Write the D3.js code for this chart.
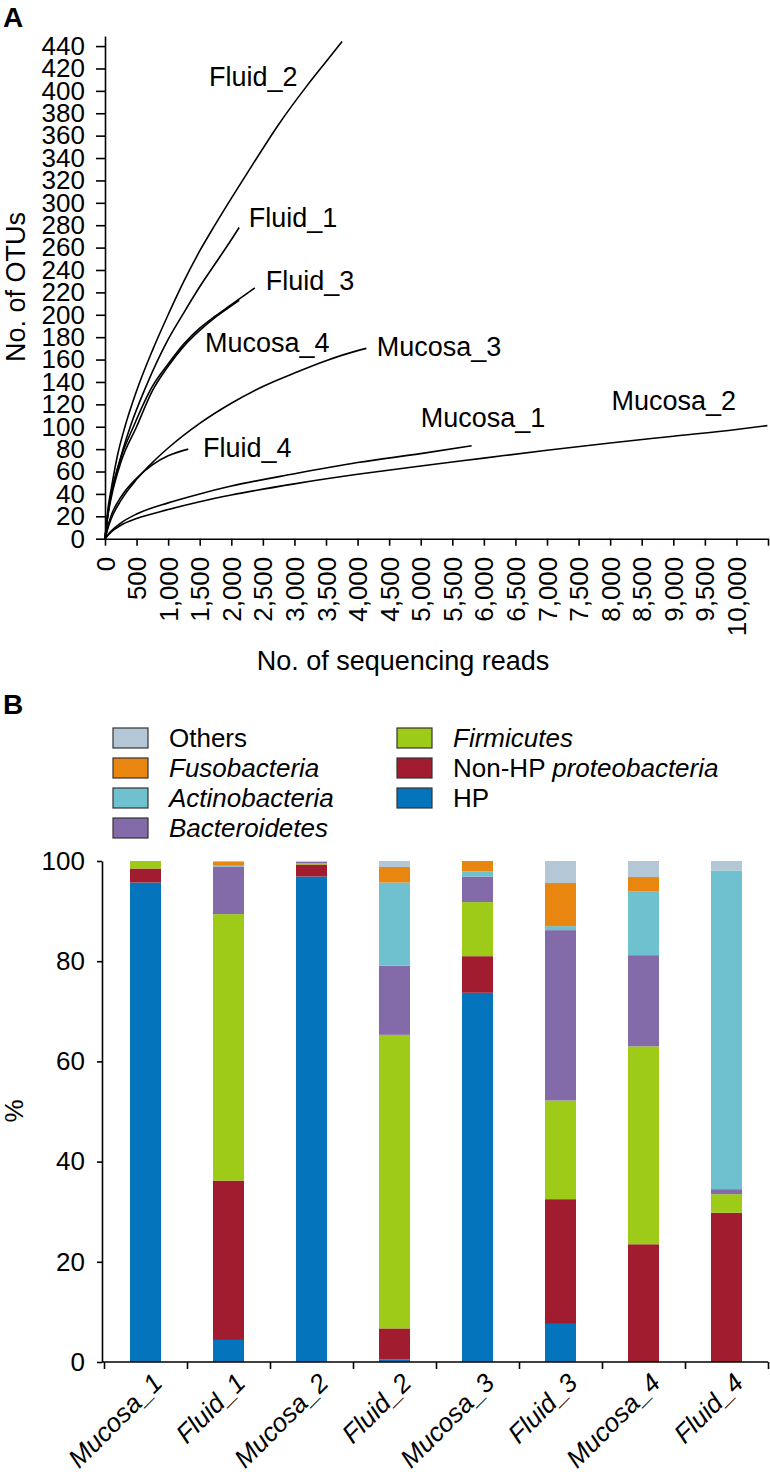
<!DOCTYPE html>
<html>
<head>
<meta charset="utf-8">
<script src="https://cdn.jsdelivr.net/npm/d3@7/dist/d3.min.js"></script>
<style>
body{margin:0;background:#fff}
svg{display:block;font-family:"Liberation Sans",Arial,sans-serif}
.axis path,.axis line{stroke:#000;stroke-width:1.6}
.axis text{font-size:26px;fill:#000;font-family:"Liberation Sans",Arial,sans-serif}
</style>
</head>
<body>
<div id="chart"></div>
<script>
// ---- panel A : rarefaction curves, points are [reads, OTUs]
const fluid_2=[[0,0],[50,28],[100,45],[200,75],[316,100],[500,132],[750,168],[1000,200],[1250,230],[1500,257],[1750,281],[2000,304],[2347,335],[2750,370],[3191,404],[3500,426],[3755,444]]
const fluid_1=[[0,0],[50,24],[100,40],[250,73],[400,100],[650,136],[1000,178],[1250,202],[1500,225],[1750,246],[2000,267],[2125,278]]
const fluid_3=[[0,0],[50,24],[100,40],[250,72],[450,100],[750,136],[1000,156],[1250,174],[1500,188],[1750,199],[2000,209],[2373,224]]
const mucosa_4=[[0,0],[50,22],[100,37],[250,68],[500,100],[750,132],[1000,154],[1250,172],[1500,186],[1750,198],[2000,208],[2125,213]]
const mucosa_3=[[0,0],[50,10],[100,18],[250,34],[500,53],[750,68],[1000,81],[1500,103],[2000,121],[2500,136],[3000,148],[3500,159],[4000,168],[4140,170]]
const fluid_4=[[0,0],[50,12],[100,21],[250,37],[500,54],[750,66],[1000,74],[1318,80]]
const mucosa_1=[[0,0],[100,7],[250,14],[500,22],[1000,32],[1500,40],[2000,47],[3000,58],[4000,68],[5000,76],[5807,83]]
const mucosa_2=[[0,0],[100,6],[250,12],[500,18],[1000,26],[1500,33],[2000,39],[3000,49],[4000,57.5],[5000,65],[6000,72],[7000,79],[8000,85.5],[9000,91.5],[10000,97.5],[10490,101]]

const curveNames=["Fluid_2","Fluid_1","Fluid_3","Mucosa_4","Mucosa_3","Fluid_4","Mucosa_1","Mucosa_2"]
const curveData=[fluid_2,fluid_1,fluid_3,mucosa_4,mucosa_3,fluid_4,mucosa_1,mucosa_2]
// where each name is written, in reads / OTUs
const labelAt=[[1646,413],[2278,287],[2547,231],[1582,175],[4304,172],[1551,81],[5000,108],[8022,123]]

const readTicks=[0,500,1000,1500,2000,2500,3000,3500,4000,4500,5000,5500,6000,6500,7000,7500,8000,8500,9000,9500,10000,10500]
const otuTicks=[0,20,40,60,80,100,120,140,160,180,200,220,240,260,280,300,320,340,360,380,400,420,440]

// ---- panel B : phylum composition (%)
const samples=["Mucosa_1","Fluid_1","Mucosa_2","Fluid_2","Mucosa_3","Fluid_3","Mucosa_4","Fluid_4"]
const phyla=["HP","Non-HP proteobacteria","Firmicutes","Bacteroidetes","Actinobacteria","Fusobacteria","Others"]
const hp=[95.7,4.4,96.9,0.5,73.7,7.6,0,0]
const nonHp=[2.8,31.8,2.4,6.2,7.3,24.9,23.5,29.8]
const firmicutes=[1.5,53.2,0.3,58.6,10.8,19.7,39.5,3.7]
const bacteroidetes=[0,9.5,0.2,13.8,5.1,34.0,18.2,1.0]
const actinobacteria=[0,0.3,0.1,16.6,1.0,0.8,12.7,63.6]
const fusobacteria=[0,0.6,0,3.1,2.1,8.6,2.9,0]
const others=[0,0.2,0.1,1.2,0,4.4,3.2,1.9]
const percentTicks=[0,20,40,60,80,100]

const phylumColors=["#0474bc","#a11c2e","#9dcb17","#836ba9","#70c1cf","#e9860f","#b3c7d6"]

let width=770, height=1484
let svg=d3.select("#chart").append("svg").attr("width",width).attr("height",height)

// panel letters
svg.append("text").attr("x",3).attr("y",27).text("A").attr("font-size",28).attr("font-weight","bold")
svg.append("text").attr("x",3).attr("y",714).text("B").attr("font-size",28).attr("font-weight","bold")

//////////////// panel A
let xA=d3.scaleLinear().domain([0,10500]).range([105,768])
let yA=d3.scaleLinear().domain([0,449]).range([538.7,36])

let axisXA=d3.axisBottom(xA).tickValues(readTicks).tickSize(7).tickSizeOuter(0)
    .tickFormat(d=>d==10500 ? "" : d3.format(",")(d))
let gx=svg.append("g").attr("class","axis").attr("transform","translate(0,"+yA(0)+")").call(axisXA)
gx.selectAll("text").attr("transform","rotate(-90)").attr("text-anchor","end").attr("x",-18).attr("y",0).attr("dy","0.35em")

let axisYA=d3.axisLeft(yA).tickValues(otuTicks).tickSize(9).tickPadding(11).tickSizeOuter(0)
svg.append("g").attr("class","axis").attr("transform","translate("+xA(0)+",0)").call(axisYA)

svg.append("text").attr("x",403).attr("y",670).attr("text-anchor","middle").attr("font-size",27).text("No. of sequencing reads")
svg.append("text").attr("transform","translate(25,287) rotate(-90)").attr("text-anchor","middle").attr("font-size",27).text("No. of OTUs")

let line=d3.line().x(d=>xA(d[0])).y(d=>yA(d[1])).curve(d3.curveMonotoneX)
svg.append("g").selectAll("path").data(curveData).enter().append("path")
    .attr("d",line).attr("fill","none").attr("stroke","#000").attr("stroke-width",1.6)

svg.append("g").selectAll("text").data(curveNames).enter().append("text")
    .attr("x",(d,i)=>xA(labelAt[i][0])).attr("y",(d,i)=>yA(labelAt[i][1]))
    .attr("dy","0.35em").attr("font-size",27).text(d=>d)

//////////////// panel B
let xB=d3.scaleBand().domain(samples).range([104,768]).padding(0)
let yB=d3.scaleLinear().domain([0,100]).range([1362,861])
let barW=31

// build the table d3.stack wants
let series=[hp,nonHp,firmicutes,bacteroidetes,actinobacteria,fusobacteria,others]
let table=samples.map((s,j)=>{
    let row={sample:s}
    phyla.forEach((p,k)=>row[p]=series[k][j])
    return row
})
let stacked=d3.stack().keys(phyla)(table)

let layers=svg.append("g").selectAll("g").data(stacked).enter().append("g").attr("fill",(d,i)=>phylumColors[i])
layers.selectAll("rect").data(d=>d).enter().append("rect")
    .attr("x",d=>xB(d.data.sample)+xB.bandwidth()/2-barW/2).attr("width",barW)
    .attr("y",d=>yB(d[1])).attr("height",d=>yB(d[0])-yB(d[1]))

let axisYB=d3.axisLeft(yB).tickValues(percentTicks).tickSize(5).tickPadding(12).tickSizeOuter(0)
svg.append("g").attr("class","axis").attr("transform","translate(102,0)").call(axisYB)

// x axis with ticks between the bars
let edge=d3.scaleLinear().domain([0,samples.length]).range(xB.range())
let axisXB=d3.axisBottom(edge).tickValues(d3.range(samples.length+1)).tickSize(7).tickFormat("").tickSizeOuter(0)
let gxb=svg.append("g").attr("class","axis").attr("transform","translate(0,"+yB(0)+")").call(axisXB)
gxb.select("path").attr("d","M102,0H768")

svg.append("g").selectAll("text").data(samples).enter().append("text")
    .attr("transform",d=>"translate("+(xB(d)+xB.bandwidth()/2+12)+","+(yB(0)+16)+") rotate(-45)")
    .attr("text-anchor","end").attr("dy","0.35em").attr("font-size",26).attr("font-style","italic").text(d=>d)

svg.append("text").attr("transform","translate(23,1111) rotate(-90)").attr("text-anchor","middle").attr("font-size",26).text("%")

// legend, two columns
let legendParts={
    "HP":[["HP",false]],
    "Non-HP proteobacteria":[["Non-HP ",false],["proteobacteria",true]],
    "Firmicutes":[["Firmicutes",true]],
    "Bacteroidetes":[["Bacteroidetes",true]],
    "Actinobacteria":[["Actinobacteria",true]],
    "Fusobacteria":[["Fusobacteria",true]],
    "Others":[["Others",false]]
}
let order=phyla.slice().reverse()
let legend=svg.append("g").attr("id","legend")
order.forEach((p,i)=>{
    let col=i<4 ? 0 : 1
    let row=i<4 ? i : i-4
    let lx=col==0 ? 113 : 397
    let ly=738+row*30
    legend.append("rect").attr("x",lx).attr("y",ly-10).attr("width",35).attr("height",20)
        .attr("fill",phylumColors[phyla.indexOf(p)]).attr("stroke","#333").attr("stroke-width",1.2)
    let t=legend.append("text").attr("x",lx+56).attr("y",ly).attr("dy","0.35em").attr("font-size",26)
    legendParts[p].forEach(part=>t.append("tspan").text(part[0]).attr("font-style",part[1] ? "italic" : "normal"))
})
</script>
</body>
</html>
